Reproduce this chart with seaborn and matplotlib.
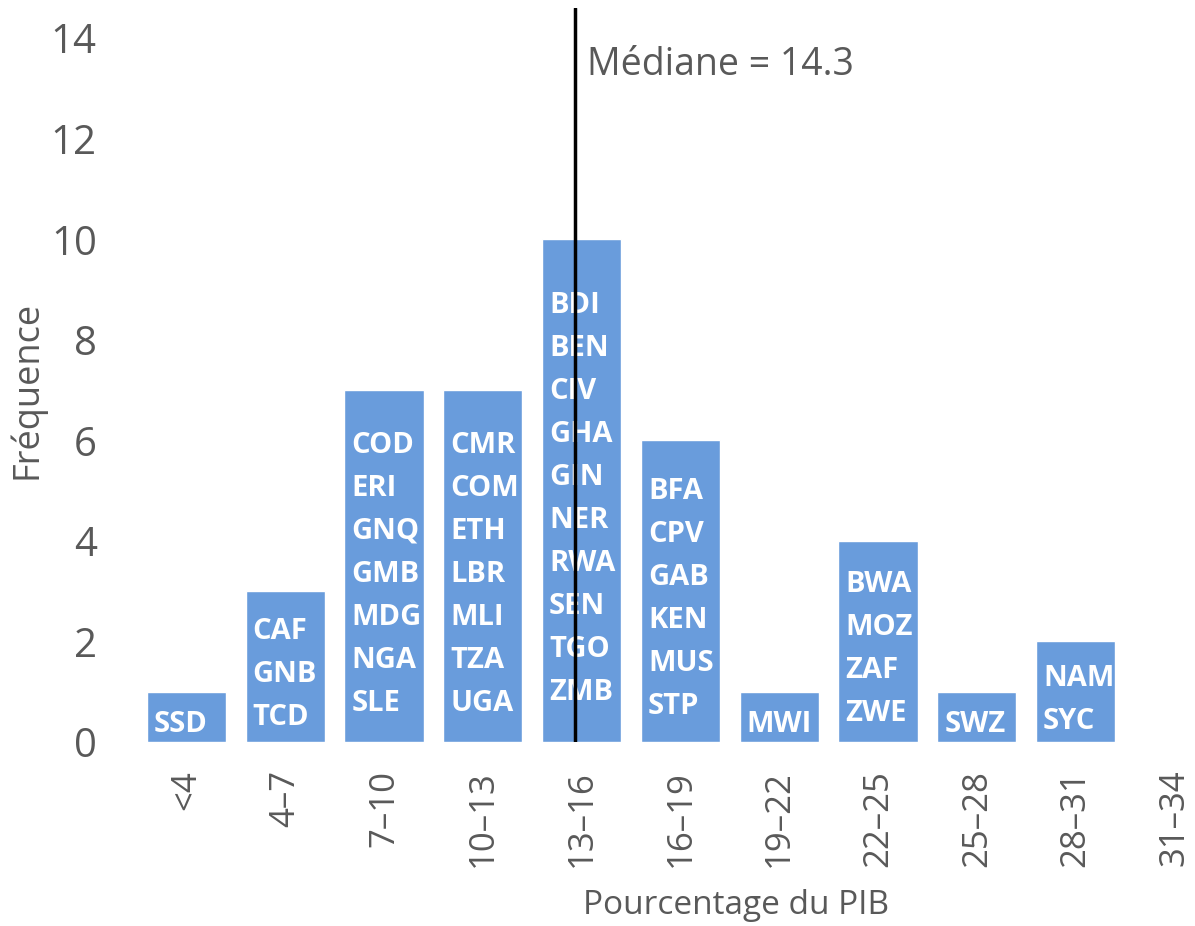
import matplotlib
matplotlib.use("Agg")
import matplotlib.pyplot as plt
import seaborn as sns
import pandas as pd

# ---- data ----
categories = ['<4', '4–7', '7–10', '10–13', '13–16', '16–19', '19–22', '22–25', '25–28', '28–31', '31–34']
counts = [1, 3, 7, 7, 10, 6, 1, 4, 1, 2, 0]
country_labels = [
    ['SSD'],
    ['CAF', 'GNB', 'TCD'],
    ['COD', 'ERI', 'GNQ', 'GMB', 'MDG', 'NGA', 'SLE'],
    ['CMR', 'COM', 'ETH', 'LBR', 'MLI', 'TZA', 'UGA'],
    ['BDI', 'BEN', 'CIV', 'GHA', 'GIN', 'NER', 'RWA', 'SEN', 'TGO', 'ZMB'],
    ['BFA', 'CPV', 'GAB', 'KEN', 'MUS', 'STP'],
    ['MWI'],
    ['BWA', 'MOZ', 'ZAF', 'ZWE'],
    ['SWZ'],
    ['NAM', 'SYC'],
    [],
]
bin_starts = [1, 4, 7, 10, 13, 16, 19, 22, 25, 28, 31]
bin_width = 3
median_value = 14.3
y_ticks = [0, 2, 4, 6, 8, 10, 12, 14]

sns.set_theme(style="white")
plt.rcParams['font.family'] = ['Open Sans', 'DejaVu Sans']

W, H = 1195, 926
fig = plt.figure(figsize=(W / 100, H / 100), dpi=100)
ax = fig.add_axes([137 / W, (H - 742) / H, (W - 137) / W, (742 - 8) / H])

df = pd.DataFrame({'cat': categories, 'n': counts})
sns.barplot(data=df, x='cat', y='n', order=categories, color='#699CDC',
            saturation=1, width=0.8, ax=ax)

gray = '#595959'
ax.set_xlim(-0.5, -0.5 + (W - 137) / 98.8)
ax.set_ylim(0, 14.6)
ax.set_yticks(y_ticks)
ax.set_yticklabels([str(v) for v in y_ticks])
for s in ax.spines.values():
    s.set_visible(False)
ax.tick_params(axis='y', length=0, pad=29, labelsize=29, labelcolor=gray)
ax.tick_params(axis='x', length=0, pad=20, labelsize=25, labelcolor=gray,
               labelrotation=90)
for t in ax.get_xticklabels():
    t.set_va('top')
    t.set_ha('center')

ax.set_xlabel('Pourcentage du PIB', fontsize=24, color=gray)
ax.set_ylabel('Fréquence', fontsize=26, color=gray)
ax.xaxis.set_label_coords((736 - 137) / (W - 137), -(905 - 742) / 734)
ax.xaxis.label.set_va('center')
ax.yaxis.set_label_coords((27 - 137) / (W - 137), (742 - 390) / 734)
ax.yaxis.label.set_va('center')

# country labels inside bars
spacing = 43
for patch, labs in zip(ax.patches, country_labels):
    n = len(labs)
    if n == 0:
        continue
    xl = patch.get_x()
    yc = patch.get_height() / 2
    for i, lab in enumerate(labs):
        dy = -8 - (i - (n - 1) / 2) * spacing
        ax.annotate(lab, xy=(xl, yc), xytext=(7, dy), textcoords='offset pixels',
                    ha='left', va='center', color='white', fontsize=21,
                    fontweight='bold')

# median line
median_pos = (median_value - bin_starts[0]) / bin_width - 0.5
ax.axvline(median_pos, color='black', lw=2.5, zorder=5)
ax.annotate(f'Médiane = {median_value}', xy=(median_pos, 13.46), xytext=(12, 0),
            textcoords='offset pixels', ha='left', va='center', fontsize=27,
            color=gray)

fig.savefig('out.png', dpi=100)
